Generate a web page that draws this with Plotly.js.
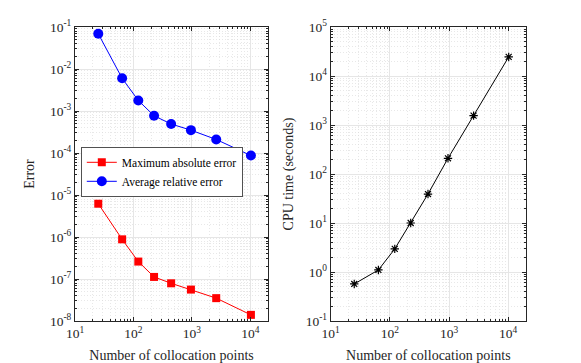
<!DOCTYPE html>
<html>
<head>
<meta charset="utf-8">
<script src="https://cdn.plot.ly/plotly-3.0.1.min.js"></script>
<style>
  html, body { margin: 0; padding: 0; background: #fff; }
  #chart { width: 581px; height: 363px; }
</style>
</head>
<body>
<div id="chart"></div>
<script>
// number of collocation points (shared x)
var nPoints = [25, 64, 121, 225, 441, 961, 2601, 10201];

// left panel
var maxAbsError = [6.2e-6, 8.8e-7, 2.6e-7, 1.12e-7, 7.9e-8, 5.6e-8, 3.5e-8, 1.4e-8];
var avgRelError = [0.069, 0.0060, 0.00178, 7.7e-4, 4.9e-4, 3.5e-4, 2.1e-4, 8.7e-5];

// right panel
var cpuTime = [0.57, 1.1, 2.96, 10, 39, 209, 1550, 24500];

var xDecades = [1, 2, 3, 4];
var errDecades = [-8, -7, -6, -5, -4, -3, -2, -1];
var cpuDecades = [-1, 0, 1, 2, 3, 4, 5];

function decadeVals(exps) {
    return exps.map(function (e) { return Math.pow(10, e); });
}
function decadeText(exps) {
    return exps.map(function (e) { return '10<sup>' + e + '</sup>'; });
}
// minor grid at 2..9 inside each decade
function minorVals(lo, hi) {
    var out = [];
    for (var e = lo; e < hi; e++) {
        for (var d = 2; d <= 9; d++) out.push(d * Math.pow(10, e));
    }
    return out;
}

var ink = '#262626';
var serif = 'Liberation Serif, Times New Roman, serif';
var font = { family: serif, size: 13.5, color: ink };

function logAxis(exps, lo, hi, range, title, extra) {
    var ax = {
        type: 'log',
        range: range,
        tickmode: 'array',
        tickvals: decadeVals(exps),
        ticktext: decadeText(exps),
        ticks: 'inside',
        ticklen: 4,
        tickcolor: ink,
        showline: true,
        linecolor: ink,
        linewidth: 1,
        mirror: 'ticks',
        showgrid: true,
        gridcolor: '#e6e6e6',
        gridwidth: 1,
        zeroline: false,
        tickfont: font,
        minor: {
            tickmode: 'array',
            tickvals: minorVals(lo, hi),
            ticks: 'inside',
            ticklen: 2,
            tickcolor: ink,
            showgrid: true,
            gridcolor: '#d9d9d9',
            griddash: '1px,2px',
            gridwidth: 0.6
        },
        title: { text: title, font: { family: serif, size: 14, color: ink } }
    };
    for (var k in extra) ax[k] = extra[k];
    return ax;
}

var xRange = [1, Math.log10(2e4)];

var data = [
    {
        x: nPoints, y: maxAbsError,
        name: 'Maximum absolute error',
        type: 'scatter', mode: 'lines+markers',
        line: { color: '#ff0000', width: 1 },
        marker: { symbol: 'square', size: 8, color: '#ff0000' },
        xaxis: 'x', yaxis: 'y'
    },
    {
        x: nPoints, y: avgRelError,
        name: 'Average relative error',
        type: 'scatter', mode: 'lines+markers',
        line: { color: '#0000ff', width: 1 },
        marker: { symbol: 'circle', size: 10, color: '#0000ff' },
        xaxis: 'x', yaxis: 'y'
    },
    {
        x: nPoints, y: cpuTime,
        name: 'CPU time',
        type: 'scatter', mode: 'lines+markers',
        showlegend: false,
        line: { color: '#000000', width: 1 },
        marker: { symbol: 'asterisk-open', size: 7, color: '#000000', line: { color: '#000000', width: 1.2 } },
        xaxis: 'x2', yaxis: 'y2'
    }
];

var layout = {
    width: 581,
    height: 363,
    margin: { l: 0, r: 0, t: 0, b: 0 },
    paper_bgcolor: '#ffffff',
    plot_bgcolor: '#ffffff',
    font: font,
    showlegend: true,
    legend: {
        x: 81 / 581, y: 1 - 197 / 363,
        xanchor: 'left', yanchor: 'bottom',
        bgcolor: '#ffffff',
        bordercolor: ink,
        borderwidth: 0.8,
        font: { family: serif, size: 11.5, color: '#000' },
        tracegroupgap: 0
    },
    xaxis: logAxis(xDecades, 1, 5, xRange, 'Number of collocation points',
        { domain: [75 / 581, 268 / 581], anchor: 'y' }),
    yaxis: logAxis(errDecades, -8, -1, [-8, -1], 'Error',
        { domain: [1 - 321 / 363, 1 - 27 / 363], anchor: 'x', title: { text: 'Error', standoff: 12, font: { family: serif, size: 14, color: ink } } }),
    xaxis2: logAxis(xDecades, 1, 5, xRange, 'Number of collocation points',
        { domain: [330.7 / 581, 526 / 581], anchor: 'y2' }),
    yaxis2: logAxis(cpuDecades, -1, 5, [-1, 5], 'CPU time (seconds)',
        { domain: [1 - 321 / 363, 1 - 27 / 363], anchor: 'x2', title: { text: 'CPU time (seconds)', standoff: 8, font: { family: serif, size: 14, color: ink } } })
};

Plotly.newPlot('chart', data, layout, { displayModeBar: false, staticPlot: true });
</script>
</body>
</html>
